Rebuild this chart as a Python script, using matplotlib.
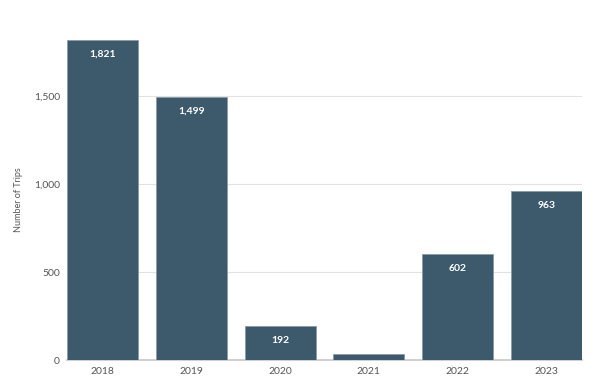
import matplotlib
matplotlib.use("Agg")
import matplotlib.pyplot as plt
from matplotlib.ticker import FuncFormatter

plt.rcParams['font.family'] = ['Lato', 'DejaVu Sans']

years = ["2018", "2019", "2020", "2021", "2022", "2023"]
trips = [1821, 1499, 192, 34, 602, 963]
show_label = [True, True, True, False, True, True]

bar_col = "#3d5a6c"
fig = plt.figure(figsize=(6, 3.85), dpi=100)
ax = fig.add_axes([0.1117, 0.0649, 0.97 - 0.1117, 0.896 - 0.0649])

x = list(range(len(years)))
bars = ax.bar(x, trips, width=0.8, color=bar_col, edgecolor="#8a9ba6", linewidth=0.6, zorder=3)

for b, v, s in zip(bars, trips, show_label):
    if s:
        ax.annotate(f"{v:,}", (b.get_x() + b.get_width() / 2, v), xytext=(0, -10.5),
                    textcoords="offset points", ha="center", va="center",
                    color="white", fontsize=7.5, fontweight="bold", zorder=4)

ax.set_xlim(-0.4, 5.4)
ax.set_ylim(0, 1821)
ax.set_xticks(x)
ax.set_xticklabels(years)
ax.set_yticks([0, 500, 1000, 1500])
ax.yaxis.set_major_formatter(FuncFormatter(lambda v, p: f"{int(v):,}"))
ax.tick_params(axis="both", length=0, labelsize=7.5, labelcolor="#555555")
ax.tick_params(axis="y", pad=5)
ax.tick_params(axis="x", pad=5)
ax.grid(axis="y", color="#e2e2e2", linewidth=0.8, zorder=0)
for sp in ["top", "right", "left"]:
    ax.spines[sp].set_visible(False)
ax.spines["bottom"].set_color("#c8c8c8")
ax.spines["bottom"].set_linewidth(1.2)
ax.set_ylabel("Number of Trips", fontsize=6.5, color="#555555", labelpad=8)

fig.savefig("out.png", dpi=100)
